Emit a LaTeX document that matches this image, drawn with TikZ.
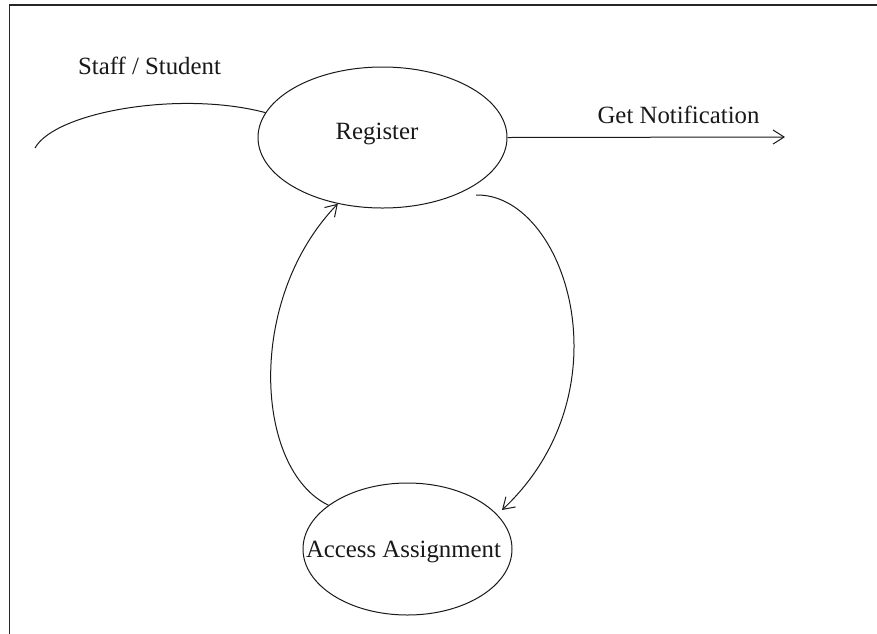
\documentclass[tikz,border=0pt]{standalone}
\usepackage{fontspec}
\setmainfont{Liberation Serif}
\usetikzlibrary{shapes.geometric,arrows.meta}
\begin{document}
\begin{tikzpicture}[x=1pt,y=-1pt,
  ln/.style={line width=1pt,draw=black!90},
  tip/.style={-{Straight Barb[length=11pt,width=14pt,line width=1pt]}},
  oval/.style={ellipse,ln,inner sep=0pt},
  txt/.style={anchor=base,inner sep=0pt,font=\fontsize{24.8}{28}\selectfont,text=black!90}]
\useasboundingbox (0,0) rectangle (877,633);
\clip (0,0) rectangle (877,633);
\fill[white] (0,0) rectangle (877,633);
\draw[line width=1.4pt,black!85] (9.5,5) rectangle (900,660);
% nodes
\node[oval,minimum width=249pt,minimum height=141pt] (reg) at (382.5,137.5) {};
\node[oval,minimum width=209pt,minimum height=132pt] (acc) at (407.5,549) {};
\node[txt] (regt) at (377,139) {Register};
\node[txt] (acct) at (403.5,557) {Access Assignment};
\node[txt] (sst) at (149.5,74) {Staff / Student};
\node[txt] (gnt) at (678.5,123) {Get Notification};
\coordinate (ss) at (35,148);
\coordinate (gn) at (785,137);
\coordinate (c1) at (476,195);
% connectors
\draw[ln] (ss) .. controls (55,112) and (180,90) .. (reg.168);
\draw[ln,tip] (reg.east) -- (gn);
\draw[ln,tip] (c1) .. controls (565,193) and (630,390) .. (502,510);
\draw[ln,tip] (acc.151) .. controls (255,470) and (245,300) .. (reg.-124);
\end{tikzpicture}
\end{document}
